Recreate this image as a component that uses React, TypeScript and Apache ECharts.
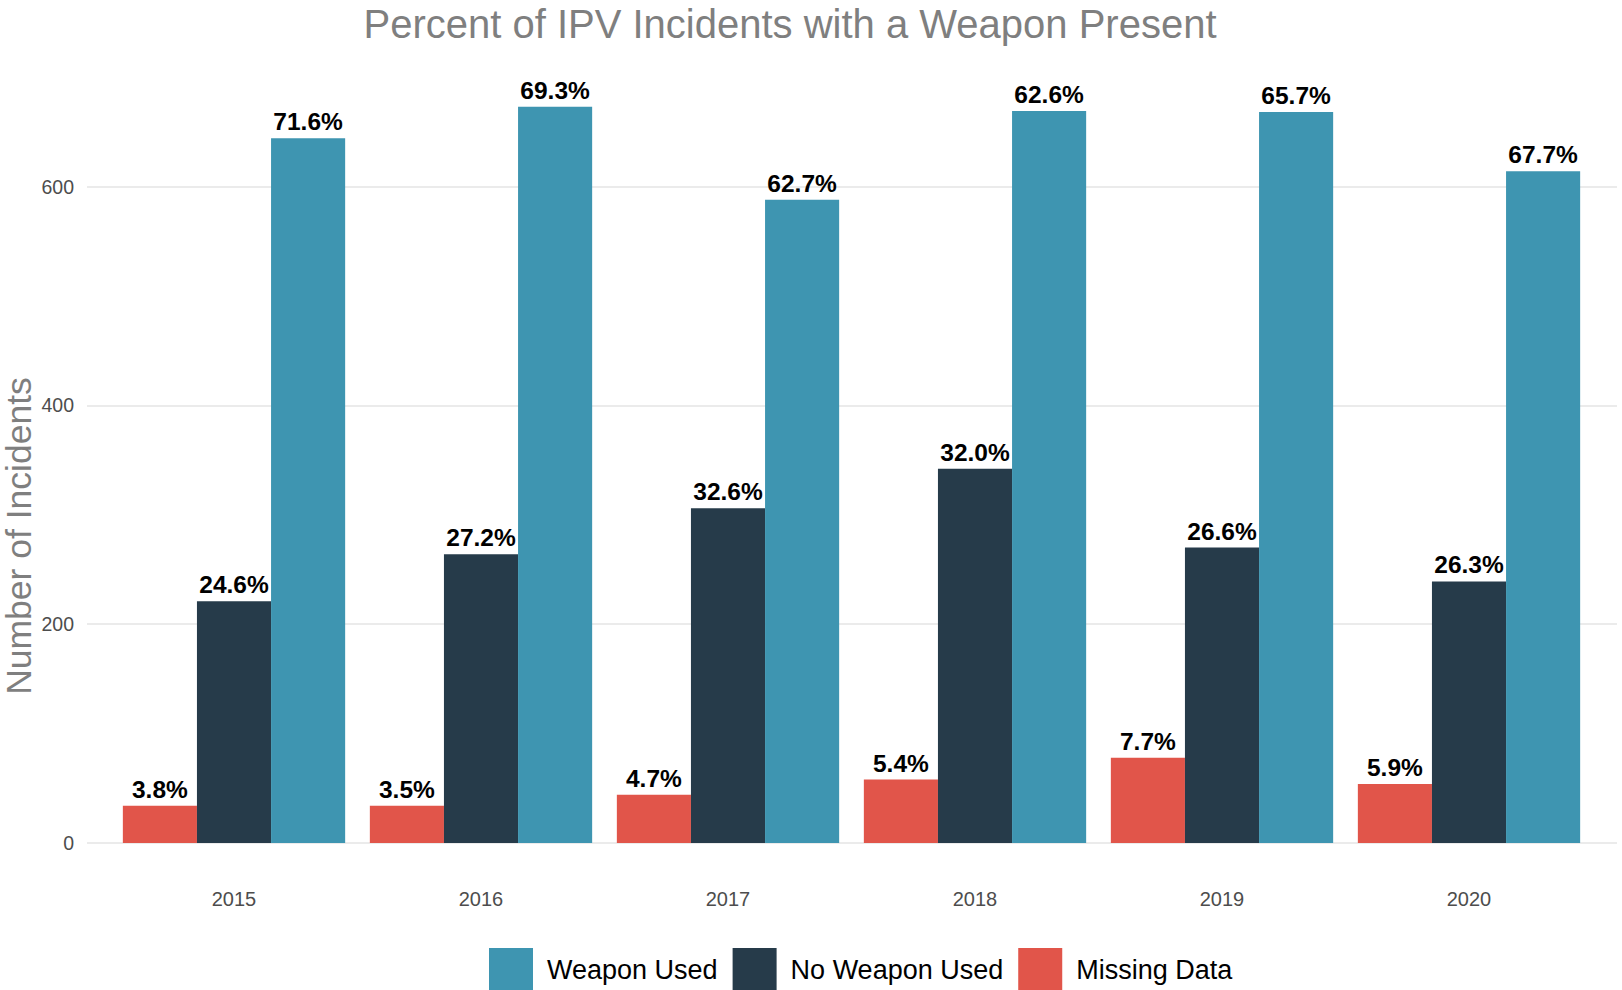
import React, { useEffect, useRef } from "react";
import * as echarts from "echarts";

// Incident counts per year, split by whether a weapon was present
const years = ["2015", "2016", "2017", "2018", "2019", "2020"];
const missingData = [34, 34, 44, 58, 78, 54];
const noWeaponUsed = [221, 264, 306, 342, 270, 239];
const weaponUsed = [644, 673, 588, 669, 668, 614];

// Share of each year's incidents, printed above the bars
const missingPct = ["3.8%", "3.5%", "4.7%", "5.4%", "7.7%", "5.9%"];
const noWeaponPct = ["24.6%", "27.2%", "32.6%", "32.0%", "26.6%", "26.3%"];
const weaponPct = ["71.6%", "69.3%", "62.7%", "62.6%", "65.7%", "67.7%"];

const yTicks = [0, 200, 400, 600];

const COLORS = {
  weapon: "#3E95B1",
  noWeapon: "#263B4A",
  missing: "#E1554A",
};

const FONT = "'Liberation Sans', Arial, Helvetica, sans-serif";

export default function App() {
  const ref = useRef<HTMLDivElement>(null);

  useEffect(() => {
    document.body.style.margin = "0";
    document.body.style.overflow = "hidden";
    if (!ref.current) return;
    const chart = echarts.init(ref.current, null, { renderer: "svg" });

    const labelFor = (pcts: string[]) => ({
      show: true,
      position: "top" as const,
      distance: 4,
      color: "#000000",
      fontWeight: "bold" as const,
      fontSize: 24.5,
      fontFamily: FONT,
      formatter: (p: any) => pcts[p.dataIndex],
    });

    const barBase = {
      type: "bar" as const,
      xAxisIndex: 1,
      yAxisIndex: 1,
      barGap: "0%",
      barCategoryGap: "10%",
    };

    chart.setOption({
      animation: false,
      backgroundColor: "#ffffff",
      textStyle: { fontFamily: FONT },
      title: {
        text: "Percent of IPV Incidents with a Weapon Present",
        left: 785,
        top: -1,
        textAlign: "center",
        textStyle: {
          color: "#7F7F7F",
          fontSize: 40,
          fontWeight: "normal",
          fontFamily: FONT,
        },
      },
      legend: {
        data: ["Weapon Used", "No Weapon Used", "Missing Data"],
        left: 489,
        top: 948,
        padding: 0,
        itemWidth: 44,
        itemHeight: 44,
        itemGap: 15,
        icon: "rect",
        textStyle: {
          fontSize: 27,
          color: "#000000",
          fontFamily: FONT,
          padding: [0, 0, 0, 9],
        },
      },
      graphic: [
        {
          type: "text",
          x: 19,
          y: 536,
          rotation: Math.PI / 2,
          style: {
            text: "Number of Incidents",
            fontSize: 35.5,
            fill: "#7F7F7F",
            fontFamily: FONT,
            textAlign: "center",
            textVerticalAlign: "middle",
          },
        },
      ],
      grid: [
        // full-width panel carrying the horizontal gridlines and y labels
        { left: 87, right: 5, top: 186.5, bottom: 147 },
        // bar panel, inset so category bands match the discrete spacing
        { left: 110.5, right: 29.5, top: 77.1, bottom: 147 },
      ],
      xAxis: [
        {
          type: "category",
          gridIndex: 0,
          data: years,
          show: false,
        },
        {
          type: "category",
          gridIndex: 1,
          data: years,
          axisLine: { show: false },
          axisTick: { show: false },
          axisLabel: {
            margin: 46,
            fontSize: 20,
            color: "#4D4D4D",
            fontFamily: FONT,
          },
        },
      ],
      yAxis: [
        {
          type: "value",
          gridIndex: 0,
          min: yTicks[0],
          max: yTicks[yTicks.length - 1],
          interval: 200,
          axisLine: { show: false },
          axisTick: { show: false },
          axisLabel: {
            margin: 13,
            fontSize: 19.5,
            color: "#4D4D4D",
            fontFamily: FONT,
          },
          splitLine: { lineStyle: { color: "#EBEBEB", width: 2 } },
        },
        {
          type: "value",
          gridIndex: 1,
          min: 0,
          max: 700,
          show: false,
          splitLine: { show: false },
        },
      ],
      series: [
        {
          ...barBase,
          name: "Missing Data",
          data: missingData,
          itemStyle: { color: COLORS.missing },
          label: labelFor(missingPct),
        },
        {
          ...barBase,
          name: "No Weapon Used",
          data: noWeaponUsed,
          itemStyle: { color: COLORS.noWeapon },
          label: labelFor(noWeaponPct),
        },
        {
          ...barBase,
          name: "Weapon Used",
          data: weaponUsed,
          itemStyle: { color: COLORS.weapon },
          label: labelFor(weaponPct),
        },
      ],
    });

    return () => chart.dispose();
  }, []);

  return <div ref={ref} style={{ width: 1622, height: 990 }} />;
}
